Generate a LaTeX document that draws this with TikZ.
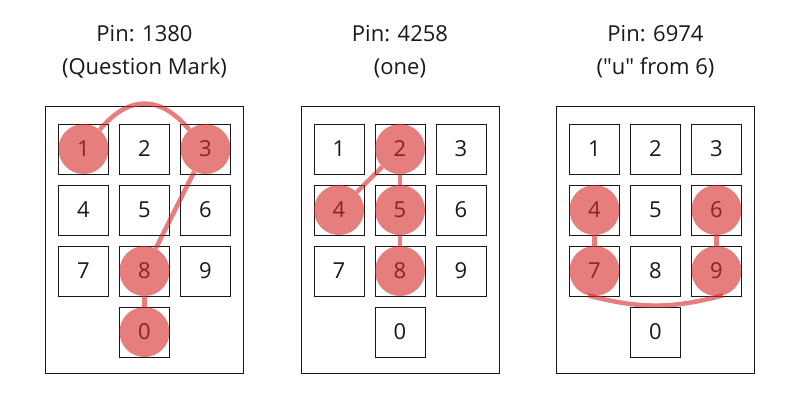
\documentclass[tikz,border=0pt]{standalone}
\usepackage{fontspec}
\setmainfont{Open Sans}
\definecolor{pinred}{RGB}{214,40,40}
\definecolor{ink}{RGB}{25,25,25}

\begin{document}
\begin{tikzpicture}[
  x = 1pt, y = -1pt,
  every node/.style = {font = \fontsize{22}{33}\selectfont, text = ink},
  pad/.style = {draw = ink, line width = 0.8pt, minimum width = 198pt, minimum height = 267pt},
  key/.style = {draw = ink, line width = 0.8pt, minimum size = 50pt, inner sep = 0pt},
  dot/.style = {circle, fill = pinred, fill opacity = 0.6, minimum size = 50pt, inner sep = 0pt},
  trace/.style = {draw = pinred, draw opacity = 0.6, line width = 4.5pt},
  ]
  \useasboundingbox (0,0) rectangle (800,400);
  \node[align = center] (t1) at (144.5, 51.5) {Pin: 1380\\(Question Mark)};
  \node[align = center] (t2) at (400, 51.5) {Pin: 4258\\(one)};
  \node[align = center] (t3) at (655.5, 51.5) {Pin: 6974\\(\textquotedbl u\textquotedbl{} from 6)};
  \foreach \p/\cx in {1/144.5, 2/400, 3/655.5} {
    \node[pad] (pad\p) at (\cx, 239.5) {};
    \foreach \n/\c/\r in {1/-1/0, 2/0/0, 3/1/0, 4/-1/1, 5/0/1, 6/1/1, 7/-1/2, 8/0/2, 9/1/2, 0/0/3}
      \node[key] (k\p-\n) at (\cx + 61*\c, 149 + 61*\r) {\n};
  }
  \foreach \n in {1, 3, 8, 0} \node[dot] (d1-\n) at (k1-\n) {};
  \foreach \n in {4, 2, 5, 8} \node[dot] (d2-\n) at (k2-\n) {};
  \foreach \n in {6, 9, 7, 4} \node[dot] (d3-\n) at (k3-\n) {};
  \draw[trace] (d1-1) to[out = 50, in = 130, looseness = 1.3] (d1-3);
  \draw[trace] (d1-3) -- (d1-8);
  \draw[trace] (d1-8) -- (d1-0);
  \draw[trace] (d2-4) -- (d2-2);
  \draw[trace] (d2-2) -- (d2-5);
  \draw[trace] (d2-5) -- (d2-8);
  \draw[trace] (d3-6) -- (d3-9);
  \draw[trace] (d3-9.285) to[out = 195, in = -15] (d3-7.255);
  \draw[trace] (d3-7) -- (d3-4);
\end{tikzpicture}
\end{document}
